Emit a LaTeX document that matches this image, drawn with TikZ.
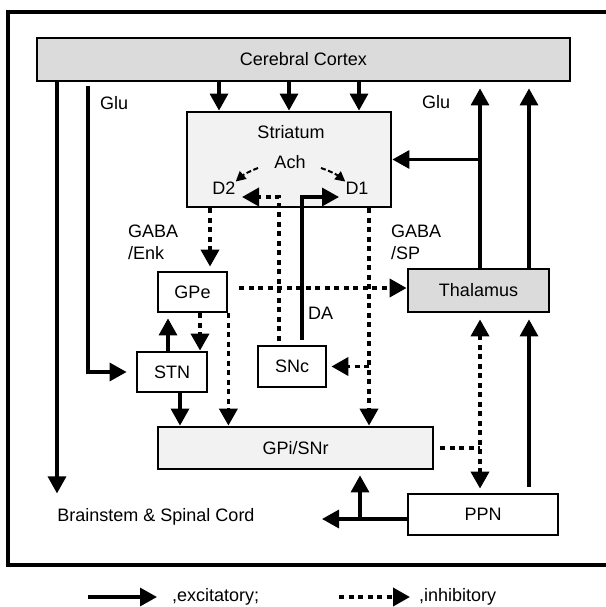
\documentclass[tikz,border=0pt]{standalone}
\usepackage{fontspec}
\setmainfont{Liberation Sans}
\usetikzlibrary{arrows.meta}
\newcommand\diafont{\fontsize{18}{22}\selectfont}
\definecolor{darkfill}{gray}{0.86}
\definecolor{lightfill}{gray}{0.95}
\begin{document}
\begin{tikzpicture}[x=1pt,y=-1pt,
  box/.style={draw, line width=2.8pt, inner sep=0pt, font=\diafont},
  lbl/.style={inner sep=0pt, font=\diafont, align=left},
  exc/.style={line width=3.3pt, -{Triangle[length=17pt,width=18pt]}},
  inhl/.style={line width=3.8pt, dash pattern=on 5pt off 4.5pt},
  inh/.style={inhl, -{Triangle[length=17pt,width=18pt]}},
  achs/.style={line width=2pt, dash pattern=on 5pt off 2.5pt, -{Triangle[length=10pt,width=10pt]}}]
\useasboundingbox (0,0) rectangle (605,607);
% frame
\draw[line width=4pt] (608,12) -- (8,12) -- (8,565) -- (608,565);
% boxes
\node[box, fill=darkfill, minimum width=533pt, minimum height=43pt] (cortex) at (303.5,59.5) {Cerebral Cortex};
\node[box, fill=lightfill, minimum width=204pt, minimum height=95pt] (striatum) at (289,159.5) {};
\node[box, fill=white, minimum width=69pt, minimum height=40pt] (gpe) at (192.5,292) {GPe};
\node[box, fill=white, minimum width=70pt, minimum height=40pt] (stn) at (172,372) {STN};
\node[box, fill=white, minimum width=68pt, minimum height=41pt] (snc) at (292,366.5) {SNc};
\node[box, fill=darkfill, minimum width=141pt, minimum height=43pt] (thal) at (478.5,290.5) {Thalamus};
\node[box, fill=lightfill, minimum width=275pt, minimum height=42pt] (gpi) at (295.5,448) {GPi/SNr};
\node[box, fill=white, minimum width=150pt, minimum height=41pt] (ppn) at (483,514.5) {PPN};
% labels
\node[lbl] (striatumlbl) at (291,132) {Striatum};
\node[lbl] (ach) at (290,162) {Ach};
\node[lbl] (d2) at (224,188) {D2};
\node[lbl] (d1) at (357,188) {D1};
\node[lbl, anchor=west] (glul) at (100,103) {Glu};
\node[lbl, anchor=west] (glur) at (422,102) {Glu};
\node[lbl, anchor=west] (gabaenk) at (128,242) {GABA\\/Enk};
\node[lbl, anchor=west] (gabasp) at (391,242) {GABA\\/SP};
\node[lbl, anchor=west] (da) at (308,313) {DA};
\node[lbl] (brain) at (156,517) {Brainstem \& Spinal Cord};
\node[lbl, anchor=west] (lexc) at (172,597) {,excitatory;};
\node[lbl, anchor=west] (linh) at (419,597) {,inhibitory};
% helper coordinates
\coordinate (xa) at (219,0);
\coordinate (xb) at (289,0);
\coordinate (xc) at (359,0);
\coordinate (xl1) at (57,0);
\coordinate (xl2) at (88,0);
\coordinate (xgs) at (210,0);
\coordinate (xsg) at (369,0);
\coordinate (xup) at (168,0);
\coordinate (xdn) at (200,0);
\coordinate (xsg2) at (180,0);
\coordinate (xda) at (302,0);
\coordinate (xdd) at (279,0);
\coordinate (xth1) at (480,0);
\coordinate (xth2) at (529,0);
\coordinate (xppn) at (360,0);
\coordinate (d1in) at (339,197);
\coordinate (d2in) at (242,197);
\coordinate (achL) at (258,168);
\coordinate (achR) at (321,168);
\coordinate (gpeR) at ([yshift=4pt]gpe.east);
\coordinate (ppnL) at ([yshift=-4.5pt]ppn.west);
\coordinate (bsout) at (322,519);
\coordinate (lea) at (88,597);
\coordinate (lia) at (339,597);
% cortex -> striatum
\draw[exc] (xa |- cortex.south) -- (xa |- striatum.north);
\draw[exc] (xb |- cortex.south) -- (xb |- striatum.north);
\draw[exc] (xc |- cortex.south) -- (xc |- striatum.north);
% cortex -> brainstem, cortex -> STN
\draw[exc, shorten >=15pt] (xl1 |- cortex.south) -- (xl1 |- brain.north);
\draw[exc, shorten <=4pt, shorten >=9pt] (xl2 |- cortex.south) |- (stn.west);
% striatum outputs
\draw[inh, shorten >=4pt] (xgs |- striatum.south) -- (xgs |- gpe.north);
\draw[inh] (xsg |- striatum.south) -- (xsg |- gpi.north);
\draw[inh, shorten >=4pt] (xsg |- snc.east) -- (snc.east);
% GPe
\draw[inh, shorten <=11pt] (gpeR) -- (gpeR -| thal.west);
\draw[inh] (xdn |- gpe.south) -- (xdn |- stn.north);
\draw[exc, shorten >=5pt] (xup |- stn.north) -- (xup |- gpe.south);
\draw[inh] (gpe.south east) -- (gpe.south east |- gpi.north);
\draw[exc] (xsg2 |- stn.south) -- (xsg2 |- gpi.north);
% SNc -> D1 / D2
\draw[exc, shorten <=5pt] (xda |- snc.north) |- (d1in);
\draw[inh, shorten <=4pt] (xdd |- snc.north) |- (d2in);
% Ach
\draw[achs] (achL) to[bend right=10] (d2.north east);
\draw[achs] (achR) to[bend left=10] (d1.north west);
% thalamus
\draw[exc, shorten >=6pt] (xth1 |- thal.north) -- (xth1 |- cortex.south);
\draw[exc, shorten >=6pt] (xth2 |- thal.north) -- (xth2 |- cortex.south);
\draw[exc] (xth1 |- striatum.east) -- (striatum.east);
\draw[exc, shorten <=6pt, shorten >=6pt] (xth2 |- ppn.north) -- (xth2 |- thal.south);
\draw[inhl, {Triangle[length=17pt,width=18pt]}-{Triangle[length=17pt,width=18pt]}, shorten <=6pt, shorten >=4pt] (xth1 |- thal.south) -- (xth1 |- ppn.north);
\draw[inhl, shorten <=6pt] (gpi.east) -- (xth1 |- gpi.east);
% PPN
\draw[exc] (ppnL) -- (bsout);
\draw[exc, shorten >=5pt] (xppn |- ppnL) -- (xppn |- gpi.south);
% legend
\draw[exc, shorten >=15pt] (lea) -- (lea -| lexc.west);
\draw[inh, shorten >=9pt] (lia) -- (lia -| linh.west);
\end{tikzpicture}
\end{document}
